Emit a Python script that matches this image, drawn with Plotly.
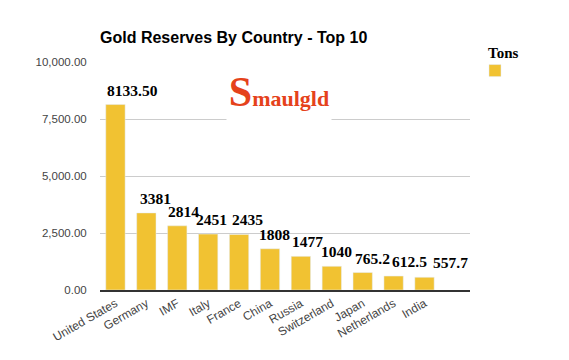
import plotly.graph_objects as go

countries = ["United States", "Germany", "IMF", "Italy", "France", "China",
             "Russia", "Switzerland", "Japan", "Netherlands", "India"]
tons = [8133.5, 3381, 2814, 2451, 2435, 1808, 1477, 1040, 765.2, 612.5, 557.7]
value_labels = ["8133.50", "3381", "2814", "2451", "2435", "1808",
                "1477", "1040", "765.2", "612.5", "557.7"]
label_offset = [0, 2, -1, -4, 1, -2, 0, -2, 1, 7, 17]
y_ticks = [0, 2500, 5000, 7500, 10000]

bar_color = "#F1C232"
bar_gap = 0.375
half_bar_px = 10.5

fig = go.Figure()
fig.add_trace(go.Bar(x=countries, y=tons, marker_color=bar_color, name="",
                     showlegend=True, hoverinfo="x+y"))

for c, v, t, s in zip(countries, tons, value_labels, label_offset):
    fig.add_annotation(x=c, y=v, text="<b>" + t + "</b>", showarrow=False,
                       xanchor="left", yanchor="bottom", xshift=s - half_bar_px, yshift=4,
                       font=dict(family="Liberation Serif", size=15.5, color="#000"))

# legend label
fig.add_annotation(xref="paper", yref="paper", x=1.043, y=1.039, text="<b>Tons</b>",
                   showarrow=False, xanchor="left", yanchor="middle",
                   font=dict(family="Liberation Serif", size=15, color="#000"))

# logo
fig.add_annotation(xref="paper", yref="paper", x=0.484, y=0.868,
                   text="<span style='font-size:42px'><b>S</b></span>"
                        "<span style='font-size:22px'><b>maulgld</b></span>",
                   showarrow=False, xanchor="center", yanchor="middle",
                   bgcolor="white", width=104, height=58, borderpad=0,
                   font=dict(family="Liberation Serif", color="#E5421B"))

fig.update_layout(
    width=561, height=352,
    margin=dict(l=92, r=99, t=54, b=70, autoexpand=False),
    paper_bgcolor="white", plot_bgcolor="white",
    title=dict(text="<b>Gold Reserves By Country - Top 10</b>", x=92/561, xanchor="left",
               y=1 - 29/352, yanchor="middle",
               font=dict(family="Arial", size=16, color="#000")),
    bargap=bar_gap,
    showlegend=True,
    legend=dict(x=1.0135, y=1.026, xanchor="left", yanchor="top",
                font=dict(size=12), bgcolor="rgba(0,0,0,0)"),
    yaxis=dict(range=[0, 10000], tickvals=y_ticks, tickformat=",.2f",
               gridcolor="#CCCCCC", zeroline=False, showline=False, automargin=False,
               ticks="outside", ticklen=10, tickcolor="white",
               tickfont=dict(family="Arial", size=11.5, color="#444")),
    xaxis=dict(tickangle=-30, showline=True, linecolor="#333", linewidth=2, automargin=False,
               tickfont=dict(family="Arial", size=12, color="#444")),
)

fig.write_html("out.html")
